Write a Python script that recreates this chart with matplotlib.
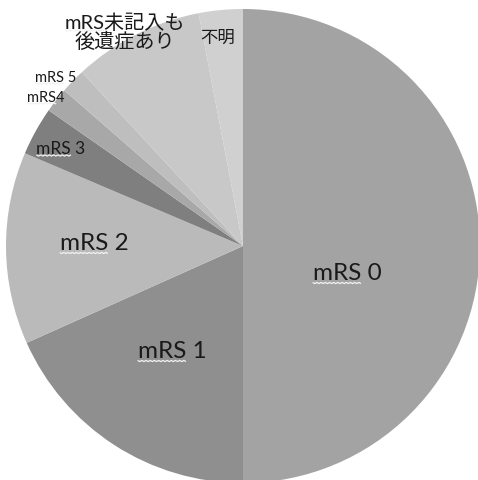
import numpy as np
import matplotlib
matplotlib.use("Agg")
import matplotlib.pyplot as plt

plt.rcParams['font.family'] = ['Lato', 'Noto Sans CJK JP', 'DejaVu Sans']

# Outcome categories (clockwise from 12 o'clock) and their shares (%)
categories = ["mRS 0", "mRS 1", "mRS 2", "mRS 3", "mRS4", "mRS 5",
              "mRS未記入も\n後遺症あり", "不明"]
shares = [50.0, 18.3, 13.1, 3.3, 1.7, 1.7, 8.9, 3.0]

colors = ["#a3a3a3", "#8f8f8f", "#bababa", "#7f7f7f",
          "#a8a8a8", "#bebebe", "#c8c8c8", "#d0d0d0"]

# label anchors (pixel coords in the 478x481 canvas) and font sizes
label_px = [(347, 274), (172, 352), (94, 244), (61, 149),
            (46, 98), (56, 78), (125, 32), (218, 38)]
label_size = [17.5, 17.5, 17.5, 12.5, 10.5, 10.5, 14.5, 12.5]

W, H = 478, 481
cx, cy, R = 243, 247, 237

fig = plt.figure(figsize=(W / 100, H / 100), dpi=100)
fig.patch.set_facecolor("white")
ax = fig.add_axes([(cx - R) / W, (H - cy - R) / H, 2 * R / W, 2 * R / H])
ax.pie(shares, colors=colors, startangle=90, counterclock=False,
       radius=1.0, wedgeprops=dict(linewidth=0))
ax.set_xlim(-1, 1)
ax.set_ylim(-1, 1)
ax.set_aspect("auto")
ax.axis("off")

fig.canvas.draw()
renderer = fig.canvas.get_renderer()

for name, (px, py), fs in zip(categories, label_px, label_size):
    x = (px - cx) / R
    y = (cy - py) / R
    t = ax.text(x, y, name, ha="center", va="center", fontsize=fs,
                color="#1a1a1a", linespacing=1.0)
    # spell-check style squiggle beneath the "mRS" part of the label
    if name.startswith("mRS"):
        bb = t.get_window_extent(renderer)
        probe = ax.text(0, 0, "mRS", fontsize=fs)
        wb = probe.get_window_extent(renderer)
        probe.remove()
        first_line_h = bb.height / (name.count("\n") + 1)
        x0 = bb.x0
        x1 = bb.x0 + wb.width
        ybase = bb.y1 - first_line_h + 0.5
        n = max(int((x1 - x0) / 2), 2)
        xs = np.linspace(x0, x1, n)
        ys = ybase + np.where(np.arange(n) % 2 == 0, 0.6, -0.6)
        inv = ax.transData.inverted()
        pts = inv.transform(np.column_stack([xs, ys]))
        ax.plot(pts[:, 0], pts[:, 1], color="#f2f2f2", lw=0.9,
                solid_capstyle="butt")

fig.savefig("out.png", dpi=100, facecolor="white")
